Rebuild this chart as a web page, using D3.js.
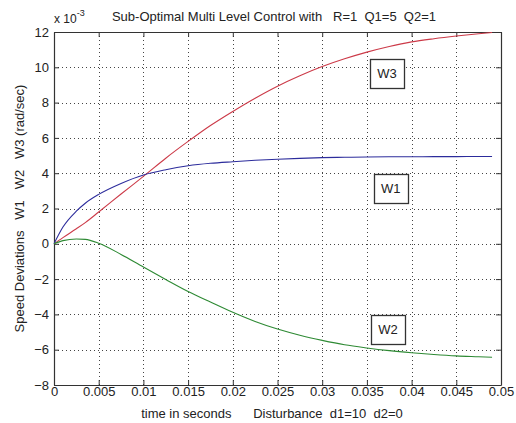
<!DOCTYPE html>
<html>
<head>
<meta charset="utf-8">
<script src="https://cdn.jsdelivr.net/npm/d3@7"></script>
<style>
  body { margin: 0; background: #fff; }
  text { font-family: "Liberation Sans", Arial, sans-serif; fill: #222; white-space: pre; }
</style>
</head>
<body>
<svg></svg>
<script>
// values, in units of 1e-3 rad/sec
var times = [0, 0.001, 0.0025, 0.0035, 0.005, 0.0075, 0.01, 0.0125, 0.015, 0.0175, 0.02, 0.0225,
             0.025, 0.0275, 0.03, 0.0325, 0.035, 0.0375, 0.04, 0.0425, 0.045, 0.0475, 0.049];
var w1 = [0, 0.95, 1.85, 2.3, 2.8, 3.42, 3.9, 4.2, 4.42, 4.56, 4.65, 4.73,
          4.79, 4.84, 4.88, 4.9, 4.92, 4.93, 4.93, 4.94, 4.94, 4.95, 4.95];
var w2 = [0, 0.18, 0.27, 0.25, 0.03, -0.6, -1.32, -2.02, -2.7, -3.3, -3.88, -4.4,
          -4.83, -5.18, -5.47, -5.72, -5.9, -6.05, -6.17, -6.27, -6.35, -6.4, -6.43];
var w3 = [0, 0.35, 0.85, 1.2, 1.8, 2.82, 3.82, 4.85, 5.8, 6.7, 7.5, 8.25,
          8.93, 9.52, 10.04, 10.48, 10.86, 11.18, 11.44, 11.62, 11.77, 11.9, 11.97];

var xTicks = [0, 0.005, 0.01, 0.015, 0.02, 0.025, 0.03, 0.035, 0.04, 0.045, 0.05];
var yTicks = [-8, -6, -4, -2, 0, 2, 4, 6, 8, 10, 12];

// text boxes: name, time, value
var labelNames = ["W3", "W1", "W2"];
var labelTimes = [0.03725, 0.03766, 0.03736];
var labelValues = [9.65, 3.18, -4.83];

var width = 516, height = 423;
var plotL = 54, plotR = 501, plotT = 32, plotB = 385;

var svg = d3.select("svg").attr("width", width).attr("height", height);

var xscale = d3.scaleLinear().domain([0, 0.05]).range([plotL, plotR]);
var yscale = d3.scaleLinear().domain([-8, 12]).range([plotB, plotT]);

svg.append("rect")
    .attr("x", plotL).attr("y", plotT)
    .attr("width", plotR - plotL).attr("height", plotB - plotT)
    .attr("fill", "#fff");

// dotted grid
var grid = svg.append("g");
grid.selectAll("line.gx")
    .data(xTicks.slice(1, -1))
    .enter().append("line")
    .attr("x1", function (d) { return Math.round(xscale(d)) + 0.5; })
    .attr("x2", function (d) { return Math.round(xscale(d)) + 0.5; })
    .attr("y1", plotT).attr("y2", plotB);
grid.selectAll("line.gy")
    .data(yTicks.slice(1, -1))
    .enter().append("line")
    .attr("y1", function (d) { return Math.round(yscale(d)) + 0.5; })
    .attr("y2", function (d) { return Math.round(yscale(d)) + 0.5; })
    .attr("x1", plotL).attr("x2", plotR);
grid.selectAll("line")
    .attr("stroke", "#444")
    .attr("stroke-width", 1)
    .attr("stroke-dasharray", "1,3");

// axes, ticks inward on all four sides
var tickLen = 5;
var fmtX = function (d) { return d === 0 ? "0" : String(+d.toFixed(3)); };

svg.append("g")
    .attr("transform", "translate(0," + plotB + ")")
    .call(d3.axisBottom(xscale).tickValues(xTicks).tickFormat(fmtX).tickSizeInner(-tickLen).tickSizeOuter(0).tickPadding(2));
svg.append("g")
    .attr("transform", "translate(0," + plotT + ")")
    .call(d3.axisTop(xscale).tickValues(xTicks).tickFormat("").tickSizeInner(-tickLen).tickSizeOuter(0));
svg.append("g")
    .attr("transform", "translate(" + plotL + ",0)")
    .call(d3.axisLeft(yscale).tickValues(yTicks).tickFormat(d3.format("d")).tickSizeInner(-tickLen).tickSizeOuter(0).tickPadding(5));
svg.append("g")
    .attr("transform", "translate(" + plotR + ",0)")
    .call(d3.axisRight(yscale).tickValues(yTicks).tickFormat("").tickSizeInner(-tickLen).tickSizeOuter(0));

svg.selectAll(".domain").attr("stroke", "#333").attr("stroke-width", 1.2);
svg.selectAll(".tick line").attr("stroke", "#333");
svg.selectAll(".tick text")
    .attr("font-family", "Liberation Sans, Arial, sans-serif")
    .attr("font-size", 13)
    .attr("fill", "#222");

// curves
var line = d3.line()
    .x(function (d, i) { return xscale(times[i]); })
    .y(function (d) { return yscale(d); })
    .curve(d3.curveMonotoneX);

var series = [[w3, "#cc3a48"], [w1, "#2c2c9c"], [w2, "#2e8a34"]];
series.forEach(function (s) {
    svg.append("path")
        .attr("fill", "none")
        .attr("stroke", s[1])
        .attr("stroke-width", 1.1)
        .attr("stroke-linejoin", "round")
        .attr("d", line(s[0]));
});

// boxed labels
labelNames.forEach(function (name, i) {
    var cx = xscale(labelTimes[i]), cy = yscale(labelValues[i]);
    svg.append("rect")
        .attr("x", Math.round(cx - 17) + 0.5).attr("y", Math.round(cy - 14) + 0.5)
        .attr("width", 34).attr("height", 29)
        .attr("fill", "#fff").attr("stroke", "#333").attr("stroke-width", 1.3);
    svg.append("text")
        .attr("x", cx).attr("y", cy + 5)
        .attr("text-anchor", "middle")
        .attr("font-size", 13)
        .text(name);
});

// titles
svg.append("text")
    .attr("x", 274).attr("y", 21)
    .attr("text-anchor", "middle")
    .attr("font-size", 13)
    .text("Sub-Optimal Multi Level Control with   R=1  Q1=5  Q2=1");

svg.append("text")
    .attr("x", 272).attr("y", 418)
    .attr("text-anchor", "middle")
    .attr("font-size", 13)
    .text("time in seconds      Disturbance  d1=10  d2=0");

svg.append("text")
    .attr("transform", "translate(24," + ((plotT + plotB) / 2) + ") rotate(-90)")
    .attr("text-anchor", "middle")
    .attr("font-size", 13)
    .text("Speed Deviations   W1   W2   W3 (rad/sec)");

var exp = svg.append("text").attr("x", plotL).attr("y", 23).attr("font-size", 12);
exp.append("tspan").text("x 10");
exp.append("tspan").attr("dy", -7).attr("font-size", 9).text("-3");
</script>
</body>
</html>
